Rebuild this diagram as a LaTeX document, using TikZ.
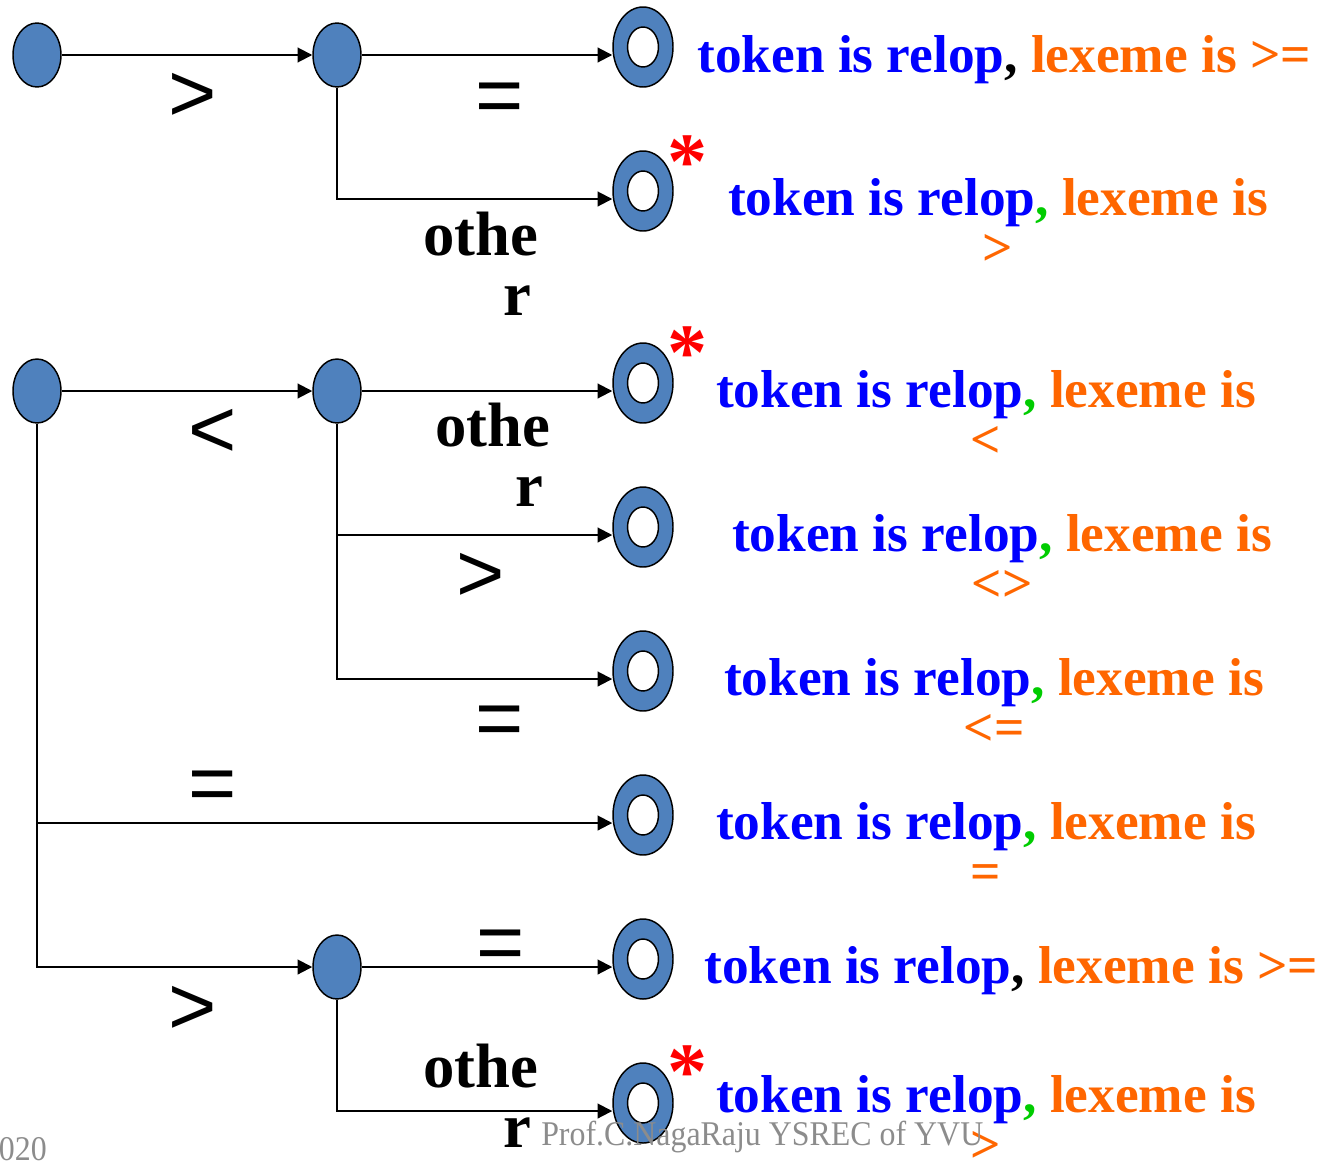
\documentclass[tikz,border=0pt]{standalone}
\usepackage{fontspec}
\setmainfont{Liberation Serif}
\newfontfamily\symfont{Liberation Sans}
\usetikzlibrary{arrows.meta, shapes.geometric}

\definecolor{stateblue}{RGB}{79,129,189}
\definecolor{tokblue}{RGB}{0,0,255}
\definecolor{lexorange}{RGB}{255,102,0}
\definecolor{commagreen}{RGB}{0,204,0}
\definecolor{wmgrey}{RGB}{140,140,140}

% first line of every token text, #1 = colour of the comma
\newcommand{\relopis}[1]{\textcolor{tokblue}{token is relop}\textcolor{#1}{,} \textcolor{lexorange}{lexeme is}}

\tikzset{
  state/.style={ellipse, draw, line width=1.1pt, fill=stateblue,
    minimum width=36pt, minimum height=48pt, inner sep=0pt},
  accept/.style={state, minimum width=45pt, minimum height=60pt,
    path picture={\draw[line width=1.1pt, fill=white]
      (path picture bounding box.center) ellipse (11.6pt and 15pt);}},
  trans/.style={line width=1.5pt, -{Triangle[length=11pt, width=11pt]}},
  sym/.style={font=\symfont\fontsize{62}{62}\selectfont, inner sep=0pt, anchor=base},
  word/.style={font=\bfseries\fontsize{47}{45}\selectfont, inner sep=0pt, align=center},
  tok/.style={font=\bfseries\fontsize{40}{37.5}\selectfont, inner sep=0pt, align=center, anchor=base},
  ast/.style={text=red, font=\bfseries\fontsize{60}{60}\selectfont, inner sep=0pt},
  wmtext/.style={text=wmgrey, font=\fontsize{26}{26}\selectfont, inner sep=0pt, xscale=0.92}
}

\begin{document}
\begin{tikzpicture}[x=0.75pt, y=-0.75pt]
\useasboundingbox (0,0) rectangle (1330,1160);

% states
\node[state] (s0) at (37,55) {};
\node[state] (n1) at (337,55) {};
\node[state] (s1) at (37,391) {};
\node[state] (n2) at (337,391) {};
\node[state] (n3) at (337,967) {};

\node[accept] (f1) at (643,47) {};
\node[accept] (f2) at (643,191) {};
\node[accept] (f3) at (643,383) {};
\node[accept] (f4) at (643,527) {};
\node[accept] (f5) at (643,671) {};
\node[accept] (f6) at (643,815) {};
\node[accept] (f7) at (643,959) {};
\node[accept] (f8) at (643,1103) {};

% transitions
\draw[trans] (s0) -- (n1);
\draw[trans] (n1) -- ([yshift=-6pt]f1.west);
\draw[trans] (n1.south) |- ([yshift=-6pt]f2.west);
\draw[trans] (s1) -- (n2);
\draw[trans] (n2) -- ([yshift=-6pt]f3.west);
\draw[trans] (n2.south) |- ([yshift=-6pt]f4.west);
\draw[trans] (n2.south) |- ([yshift=-6pt]f5.west);
\draw[trans] (s1.south) |- ([yshift=-6pt]f6.west);
\draw[trans] (s1.south) |- (n3);
\draw[trans] (n3) -- ([yshift=-6pt]f7.west);
\draw[trans] (n3.south) |- ([yshift=-6pt]f8.west);

% edge labels
\node[sym] (l1) at (193,121) {>};
\node[sym] (l2) at (500,123) {=};
\node[word] (l3) at (481,264) {othe\\\hspace*{54pt}r};
\node[sym] (l4) at (213,457) {<};
\node[word] (l5) at (493,455) {othe\\\hspace*{54pt}r};
\node[sym] (l6) at (481,601) {>};
\node[sym] (l7) at (500,746) {=};
\node[sym] (l8) at (213,811) {=};
\node[sym] (l9) at (501,970) {=};
\node[sym] (l10) at (193,1034) {>};
\node[word] (l11) at (481,1096) {othe\\\hspace*{54pt}r};

% retract marks
\node[ast] (a2) at ([shift={(44,-29)}]f2) {*};
\node[ast] (a3) at ([shift={(44,-30)}]f3) {*};
\node[ast] (a8) at ([shift={(44,-31)}]f8) {*};

% token texts
\node[tok, anchor=base west] (t1) at (697,72) {\relopis{black} \textcolor{lexorange}{>=}};
\node[tok] (t2) at (998,265) {\relopis{commagreen}\\\textcolor{lexorange}{>}};
\node[tok] (t3) at (986,457) {\relopis{commagreen}\\\textcolor{lexorange}{<}};
\node[tok] (t4) at (1002,601) {\relopis{commagreen}\\\textcolor{lexorange}{<>}};
\node[tok] (t5) at (994,745) {\relopis{commagreen}\\\textcolor{lexorange}{<=}};
\node[tok] (t6) at (986,889) {\relopis{commagreen}\\\textcolor{lexorange}{=}};
\node[tok, anchor=base west] (t7) at (704,983) {\relopis{black} \textcolor{lexorange}{>=}};
\node[tok] (t8) at (986,1162) {\relopis{commagreen}\\\textcolor{lexorange}{>}};

% footer
\node[wmtext, anchor=base west] (wm) at (541,1145) {Prof.C.NagaRaju YSREC of YVU};
\node[wmtext, anchor=base east] (pg) at (47,1160) {2020};
\end{tikzpicture}
\end{document}
